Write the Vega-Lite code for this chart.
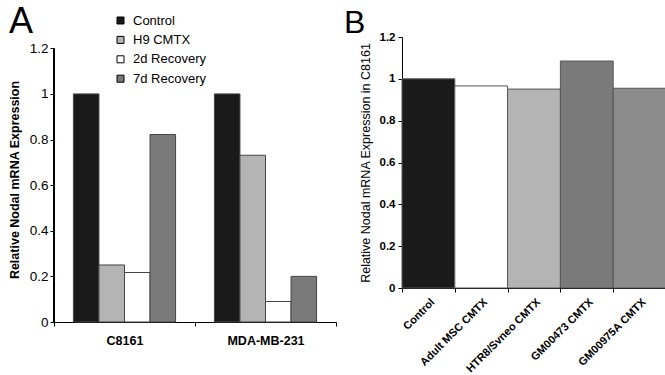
{
  "$schema": "https://vega.github.io/schema/vega-lite/v6.json",
  "padding": {"left": 8, "top": 4, "right": 0, "bottom": 0},
  "spacing": 7,
  "resolve": {"scale": {"color": "independent"}, "legend": {"color": "independent"}},
  "config": {
    "view": {"stroke": null},
    "font": "Liberation Sans",
    "axis": {"domainColor": "#000", "tickColor": "#000", "labelColor": "#000", "titleColor": "#000", "labelFont": "Liberation Sans", "titleFont": "Liberation Sans", "grid": false, "tickSize": 4},
    "title": {"font": "Liberation Sans", "color": "#000"}
  },
  "datasets": {
    "a": [
      {"line": "C8161", "treatment": "Control", "value": 1.0},
      {"line": "C8161", "treatment": "H9 CMTX", "value": 0.25},
      {"line": "C8161", "treatment": "2d Recovery", "value": 0.217},
      {"line": "C8161", "treatment": "7d Recovery", "value": 0.822},
      {"line": "MDA-MB-231", "treatment": "Control", "value": 1.0},
      {"line": "MDA-MB-231", "treatment": "H9 CMTX", "value": 0.731},
      {"line": "MDA-MB-231", "treatment": "2d Recovery", "value": 0.09},
      {"line": "MDA-MB-231", "treatment": "7d Recovery", "value": 0.2}
    ],
    "b": [
      {"condition": "Control", "value": 1.0},
      {"condition": "Adult MSC CMTX", "value": 0.966},
      {"condition": "HTR8/Svneo CMTX", "value": 0.951},
      {"condition": "GM00473 CMTX", "value": 1.085},
      {"condition": "GM00975A CMTX", "value": 0.955}
    ]
  },
  "hconcat": [
    {
      "data": {"name": "a"},
      "width": 282,
      "height": 285,
      "title": {"text": "A", "anchor": "start", "frame": "group", "fontSize": 36, "fontWeight": "normal", "dx": -45, "offset": -27},
      "layer": [
        {
          "mark": {"type": "bar", "stroke": "#444", "strokeWidth": 1},
          "encoding": {
            "x": {"field": "line", "type": "nominal", "sort": ["C8161", "MDA-MB-231"],
                  "scale": {"paddingInner": 0, "paddingOuter": 0},
                  "axis": {"title": null, "labelAngle": 0, "labelFontWeight": "bold", "labelFontSize": 12.5, "labelPadding": 8, "tickBand": "extent"}},
            "xOffset": {"field": "treatment", "type": "nominal", "sort": ["Control", "H9 CMTX", "2d Recovery", "7d Recovery"],
                        "scale": {"paddingInner": 0, "paddingOuter": 0.76}},
            "y": {"field": "value", "type": "quantitative",
                  "scale": {"domain": [0, 1.2495], "nice": false},
                  "axis": {"values": [0, 0.2, 0.4, 0.6, 0.8, 1, 1.2], "format": "~g", "domain": false, "labelFontSize": 13.5, "labelPadding": 2,
                           "title": "Relative Nodal mRNA Expression", "titleFontSize": 12.5, "titleFontWeight": "bold", "titlePadding": 8}},
            "color": {"field": "treatment", "type": "nominal", "sort": ["Control", "H9 CMTX", "2d Recovery", "7d Recovery"],
                      "scale": {"domain": ["Control", "H9 CMTX", "2d Recovery", "7d Recovery"], "range": ["#1a1a1a", "#b4b4b4", "#ffffff", "#7a7a7a"]},
                      "legend": {"title": null, "orient": "none", "legendX": 60, "legendY": -23, "symbolType": "square", "symbolSize": 49,
                                 "symbolStrokeColor": "#000", "symbolStrokeWidth": 1, "labelFontSize": 13, "labelColor": "#000", "rowPadding": 5.4, "labelOffset": 6}}
          }
        },
        {
          "mark": {"type": "rule", "color": "#000", "strokeWidth": 1},
          "encoding": {
            "x": {"datum": "C8161", "type": "nominal", "bandPosition": 0},
            "y": {"datum": 0, "type": "quantitative"},
            "y2": {"datum": 1.2}
          }
        }
      ]
    },
    {
      "data": {"name": "b"},
      "width": 264,
      "height": 251,
      "title": {"text": "B", "anchor": "start", "frame": "group", "fontSize": 32, "fontWeight": "normal", "dx": -58, "offset": -9},
      "mark": {"type": "bar", "stroke": "#555", "strokeWidth": 1},
      "encoding": {
        "x": {"field": "condition", "type": "nominal", "sort": null,
              "scale": {"paddingInner": 0, "paddingOuter": 0},
              "axis": {"title": null, "labelAngle": -45, "labelFontWeight": "bold", "labelFontSize": 11, "labelPadding": 4, "tickBand": "extent"}},
        "y": {"field": "value", "type": "quantitative",
              "scale": {"domain": [0, 1.2], "nice": false},
              "axis": {"values": [0, 0.2, 0.4, 0.6, 0.8, 1, 1.2], "format": "~g", "labelFontSize": 11.5, "labelFontWeight": "bold", "labelPadding": 3,
                       "title": "Relative Nodal mRNA Expression in C8161", "titleFontSize": 12.5, "titleFontWeight": "normal", "titlePadding": 7}},
        "color": {"field": "condition", "type": "nominal", "sort": null,
                  "scale": {"domain": ["Control", "Adult MSC CMTX", "HTR8/Svneo CMTX", "GM00473 CMTX", "GM00975A CMTX"], "range": ["#1a1a1a", "#ffffff", "#b4b4b4", "#7a7a7a", "#8c8c8c"]},
                  "legend": null}
      }
    }
  ]
}
